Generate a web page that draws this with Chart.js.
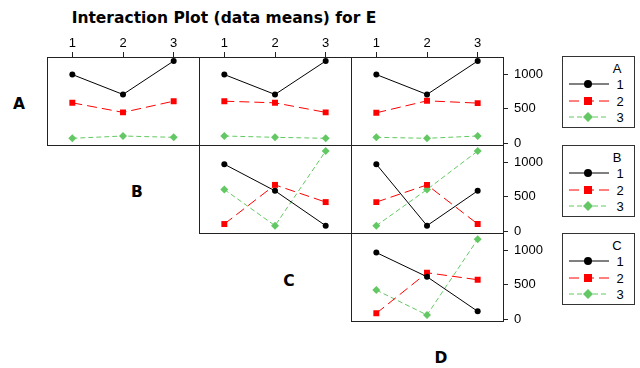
<!DOCTYPE html>
<html>
<head>
<meta charset="utf-8">
<script src="https://cdn.jsdelivr.net/npm/chart.js@4.4.1/dist/chart.umd.min.js"></script>
<style>
  body { margin: 0; background: #fff; width: 640px; height: 368px; position: relative; overflow: hidden;
         font-family: 'Liberation Sans', Arial, sans-serif; color: #000; }
  .big { position: absolute; font-family: 'DejaVu Sans', sans-serif; font-weight: bold; font-size: 15.5px;
         line-height: 16px; white-space: nowrap; transform: translate(-50%, -50%); }
  .legend { position: absolute; left: 562px; width: 71px; height: 70px; border: 1px solid #333; background: #fff; }
  .legend .t { position: absolute; font-size: 13px; line-height: 13px; transform: translate(-50%, -50%); }
  .legend svg { position: absolute; left: 0; top: 0; }
</style>
</head>
<body>
<div class="big" style="left:224px;top:18px">Interaction Plot (data means) for E</div>
<div class="big" style="left:19px;top:104px">A</div>
<div class="big" style="left:137px;top:192px">B</div>
<div class="big" style="left:289px;top:281px">C</div>
<div class="big" style="left:441px;top:358px">D</div>

<script>
// factor levels (x categories and series names)
const levels = ['1', '2', '3'];
const factors = ['A', 'B', 'C', 'D'];
const yTicks = [0, 500, 1000];

// means of E: one row per level of the line factor, one column per level of the x factor
const meansAB = [[994, 706, 1190], [585, 447, 609], [72, 105, 86]];
const meansAC = [[994, 706, 1190], [609, 585, 447], [105, 86, 72]];
const meansAD = [[994, 706, 1190], [441, 614, 581], [86, 72, 105]];
const meansBC = [[970, 585, 81], [105, 671, 422], [604, 81, 1161]];
const meansBD = [[970, 81, 585], [422, 671, 105], [81, 604, 1161]];
const meansCD = [[965, 615, 115], [86, 673, 572], [422, 62, 1157]];

const colors = ['#000000', '#ff0000', '#63c863'];
const dashes = [[], [10, 5], [5, 3]];
const shapes = ['circle', 'rect', 'rectRot'];
const radii = [3, 4.2, 4];

const COL_X = [47, 199, 351];
const ROW_Y = [57, 145, 233];
const PANEL_W = 152, PANEL_H = 88;
const AXIS_H = 22, AXIS_W = 50, PAD_B = 8;
const font = { family: 'Liberation Sans', size: 13 };

// draws the box round each panel
const frame = {
    id: 'frame',
    afterDraw(chart) {
        const { ctx, chartArea: a } = chart;
        ctx.save();
        ctx.strokeStyle = '#222';
        ctx.lineWidth = 1;
        ctx.strokeRect(a.left + 0.5, a.top + 0.5, a.right - a.left, a.bottom - a.top);
        ctx.restore();
    }
};

function makePanel(means, row, col) {
    const topAxis = row === 0, rightAxis = col === 2;
    const padR = rightAxis ? 0 : 1;
    const padB = rightAxis ? PAD_B : 1;
    const w = PANEL_W + (rightAxis ? AXIS_W : 0) + padR;
    const h = PANEL_H + (topAxis ? AXIS_H : 0) + padB;
    const canvas = document.createElement('canvas');
    canvas.width = w;
    canvas.height = h;
    canvas.style.cssText = `position:absolute;left:${COL_X[col]}px;top:${ROW_Y[row] - (topAxis ? AXIS_H : 0)}px;width:${w}px;height:${h}px`;
    document.body.appendChild(canvas);

    new Chart(canvas, {
        type: 'line',
        data: {
            labels: levels,
            datasets: means.map((vals, k) => ({
                label: levels[k],
                data: vals,
                borderColor: colors[k],
                backgroundColor: colors[k],
                borderWidth: 1,
                borderDash: dashes[k],
                pointStyle: shapes[k],
                pointRadius: radii[k],
                pointBorderWidth: 0,
                pointBackgroundColor: colors[k],
                tension: 0
            }))
        },
        options: {
            responsive: false,
            animation: false,
            devicePixelRatio: 1,
            layout: { padding: { top: 0, left: 0, right: padR, bottom: padB }, autoPadding: false },
            plugins: { legend: { display: false }, tooltip: { enabled: false } },
            scales: {
                x: {
                    type: 'category',
                    offset: true,
                    position: 'top',
                    display: topAxis,
                    afterFit: s => {
                        if (topAxis) s.height = AXIS_H;
                        s.paddingLeft = s.paddingRight = 0;
                    },
                    ticks: { font: font, color: '#000', padding: 1, maxRotation: 0 },
                    grid: { drawOnChartArea: false, tickLength: 5, color: '#222' },
                    border: { display: false }
                },
                y: {
                    type: 'linear',
                    min: -25,
                    max: 1248,
                    position: 'right',
                    display: rightAxis,
                    afterFit: s => {
                        if (rightAxis) s.width = AXIS_W;
                        s.paddingTop = s.paddingBottom = 0;
                    },
                    afterBuildTicks: s => { s.ticks = yTicks.map(v => ({ value: v })); },
                    ticks: { font: font, color: '#000', padding: 6, callback: v => String(v) },
                    grid: { drawOnChartArea: false, tickLength: 5, color: '#222' },
                    border: { display: false }
                }
            }
        },
        plugins: [frame]
    });
}

makePanel(meansAB, 0, 0);
makePanel(meansAC, 0, 1);
makePanel(meansAD, 0, 2);
makePanel(meansBC, 1, 1);
makePanel(meansBD, 1, 2);
makePanel(meansCD, 2, 2);

// legends for the line factors A, B, C
const LEGEND_Y = [56, 145, 233];
function markerSvg(k, cx, cy) {
    if (shapes[k] === 'circle') return `<circle cx="${cx}" cy="${cy}" r="4" fill="${colors[k]}"/>`;
    if (shapes[k] === 'rect') return `<rect x="${cx - 4}" y="${cy - 4}" width="8" height="8" fill="${colors[k]}"/>`;
    return `<polygon points="${cx},${cy - 5} ${cx + 5},${cy} ${cx},${cy + 5} ${cx - 5},${cy}" fill="${colors[k]}"/>`;
}
factors.slice(0, 3).forEach((f, i) => {
    const box = document.createElement('div');
    box.className = 'legend';
    box.style.top = LEGEND_Y[i] + 'px';
    const rowsY = [27, 44, 60];
    let svg = '<svg width="71" height="70">';
    levels.forEach((lv, k) => {
        const dash = dashes[k].length ? ` stroke-dasharray="${dashes[k].join(' ')}"` : '';
        svg += `<line x1="6" y1="${rowsY[k]}" x2="46" y2="${rowsY[k]}" stroke="${colors[k]}" stroke-width="1"${dash}/>`;
        svg += markerSvg(k, 25, rowsY[k]);
    });
    svg += '</svg>';
    let html = svg + `<div class="t" style="left:54px;top:11px">${f}</div>`;
    levels.forEach((lv, k) => {
        html += `<div class="t" style="left:57px;top:${rowsY[k]}px">${lv}</div>`;
    });
    box.innerHTML = html;
    document.body.appendChild(box);
});
</script>
</body>
</html>
